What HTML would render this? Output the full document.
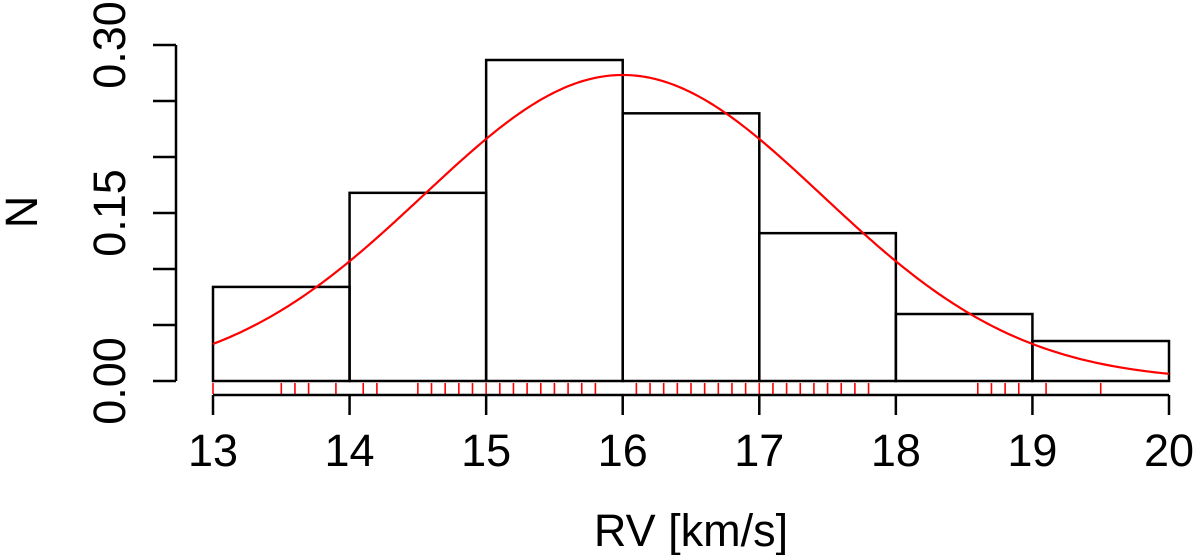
<!DOCTYPE html>
<html><head><meta charset="utf-8"><style>
html,body{margin:0;padding:0;background:#fff}
svg{display:block;font-family:"Liberation Sans",Arial,sans-serif}
</style></head><body>
<svg id="chart" width="1200" height="555">
<g id="bars"></g>
<g id="rug"></g>
<path id="curve" fill="none" stroke="#ff0000" stroke-width="2.2"/>
<g id="xaxis"></g>
<g id="yaxis"></g>
<text x="691" y="546" font-size="45" text-anchor="middle">RV [km/s]</text>
<text transform="translate(37,212) rotate(-90)" font-size="45" text-anchor="middle">N</text>
</svg>
<script>
const binEdges=[13,14,15,16,17,18,19,20];
const binHeights=[0.084,0.168,0.2866,0.239,0.132,0.0598,0.0357];
const rugValues=[13.0,13.5,13.6,13.7,13.9,14.1,14.2,14.5,14.6,14.7,14.8,14.9,15.0,15.1,15.2,15.3,15.4,15.5,15.6,15.7,15.8,16.1,16.2,16.3,16.4,16.5,16.6,16.7,16.8,16.9,17.0,17.1,17.2,17.3,17.4,17.5,17.6,17.7,17.8,18.6,18.7,18.8,18.9,19.1,19.5];
const fitMean=16.0;
const fitSd=1.46;
const xTicks=[13,14,15,16,17,18,19,20];
const yTicks=[0,0.05,0.10,0.15,0.20,0.25,0.30];
const yLabels={0:"0.00",0.15:"0.15",0.3:"0.30"};
const NS="http://www.w3.org/2000/svg";
const X=v=>213+(v-13)*(1169-213)/7;
const Y=v=>381-v*1120;
function mk(tag,attrs,parent){const e=document.createElementNS(NS,tag);for(const k in attrs)e.setAttribute(k,attrs[k]);parent.appendChild(e);return e;}
const bars=document.getElementById('bars');
binHeights.forEach((h,i)=>{
 const r=mk('rect',{x:X(binEdges[i]),y:Y(h),width:X(binEdges[i+1])-X(binEdges[i]),height:Y(0)-Y(h),fill:'none',stroke:'#000','stroke-width':2.5},bars);
 
 
});
const rug=document.getElementById('rug');
rugValues.forEach(v=>{
 const l=mk('line',{x1:X(v),x2:X(v),y1:383,y2:394,stroke:'#ff0000','stroke-width':1.6},rug);
 
 
});
let d='';
for(let i=0;i<=300;i++){const x=13+7*i/300;const y=Math.exp(-0.5*((x-fitMean)/fitSd)**2)/(fitSd*Math.sqrt(2*Math.PI));d+=(i?'L':'M')+X(x).toFixed(2)+','+Y(y).toFixed(2);}
document.getElementById('curve').setAttribute('d',d);
const xa=document.getElementById('xaxis');
mk('line',{x1:X(13),x2:X(20),y1:395,y2:395,stroke:'#000','stroke-width':2.5},xa);
xTicks.forEach(t=>{
 mk('line',{x1:X(t),x2:X(t),y1:395,y2:415,stroke:'#000','stroke-width':2.5},xa);
 const tx=mk('text',{x:X(t),y:466,'font-size':45,'text-anchor':'middle'},xa);
 tx.textContent=t;
 
 
});
const ya=document.getElementById('yaxis');
mk('line',{x1:176,x2:176,y1:Y(0.3),y2:Y(0),stroke:'#000','stroke-width':2.5},ya);
yTicks.forEach(t=>{
 mk('line',{x1:153,x2:176,y1:Y(t),y2:Y(t),stroke:'#000','stroke-width':2.5},ya);
 const key=Math.round(t*100)/100;
 if(yLabels[key]!==undefined){
  const tx=mk('text',{transform:`translate(125,${Y(t)}) rotate(-90)`,'font-size':45,'text-anchor':'middle'},ya);
  tx.textContent=yLabels[key];
  
  
 }
});
</script>
</body></html>
